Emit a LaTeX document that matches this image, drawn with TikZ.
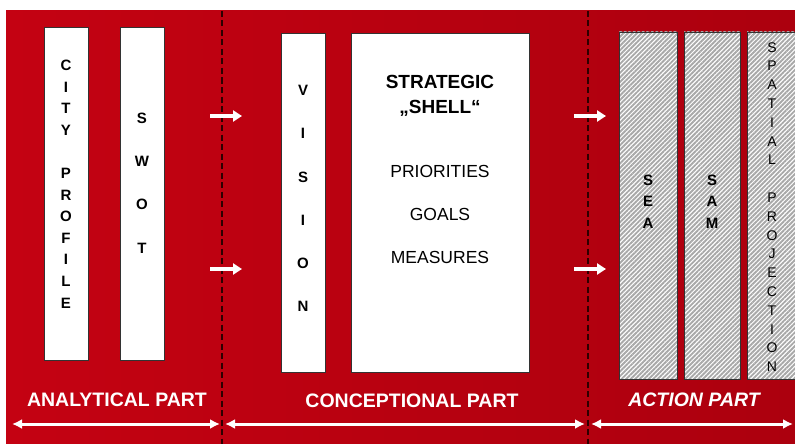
\documentclass[tikz,border=0pt]{standalone}
\usepackage{fontspec}
\setmainfont{Liberation Sans}
\usetikzlibrary{arrows.meta,patterns.meta}

\definecolor{bgred}{RGB}{196,2,18}
\definecolor{bgdark}{RGB}{172,0,14}
\definecolor{hatchgray}{RGB}{168,168,168}
\definecolor{divider}{RGB}{45,0,0}

\tikzset{
	whitebox/.style = {draw=black!80, fill=white, line width=0.8pt, inner sep=0pt, outer sep=0pt},
	hatchbox/.style = {draw=black!80, line width=0.8pt, inner sep=0pt, outer sep=0pt, preaction={fill=white}, pattern={Lines[angle=45,distance=3.2pt,line width=1.9pt]}, pattern color=hatchgray},
	letters/.style = {align=center, inner sep=0pt, font=\bfseries\fontsize{15}{21.6}\selectfont},
	wideletters/.style = {letters, font=\bfseries\fontsize{15}{43.3}\selectfont},
	partlabel/.style = {inner sep=0pt, text=white, font=\bfseries\fontsize{19.5}{22}\selectfont},
	divline/.style = {draw=divider, line width=1.2pt, dash pattern=on 6pt off 3.5pt},
	flow/.style = {draw=white, line width=3.2pt, -{Triangle[length=9pt,width=11pt]}},
	span/.style = {draw=white, line width=3pt, {Latex[length=10pt,width=10pt]}-{Latex[length=10pt,width=10pt]}}
}

\begin{document}
\begin{tikzpicture}[x=1pt, y=-1pt]
\useasboundingbox (0,0) rectangle (795,444);
\clip (0,0) rectangle (795,444);
\shade [left color=bgred, right color=bgdark] (6,11) rectangle (795,444);

% analytical part
\node (city) [whitebox, minimum width=44pt, minimum height=333pt] at (66,193.5) {};
\node (swot) [whitebox, minimum width=44pt, minimum height=333pt] at (142,193.5) {};
\node (citytxt) [letters] at (66,184) {C\\I\\T\\Y\\[21.6pt]P\\R\\O\\F\\I\\L\\E};
\node (swottxt) [wideletters] at (142,183) {S\\W\\O\\T};

% conceptional part
\node (vision) [whitebox, minimum width=44pt, minimum height=339pt] at (303,202.5) {};
\node (shell) [whitebox, minimum width=178pt, minimum height=339pt] at (440,202.5) {};
\node (visiontxt) [wideletters] at (303,198.5) {V\\I\\S\\I\\O\\N};
\node (shelltxt) [align=center, inner sep=0pt, font=\bfseries\fontsize{19}{25}\selectfont] at (440,96) {STRATEGIC\\„SHELL“};
\node (goals) [align=center, inner sep=0pt, font=\fontsize{17.5}{43}\selectfont] at (440,214) {PRIORITIES\\GOALS\\MEASURES};

% action part
\node (sea) [hatchbox, minimum width=58pt, minimum height=347pt] at (648,205.5) {};
\node (sam) [hatchbox, minimum width=56pt, minimum height=347pt] at (712,205.5) {};
\node (spatial) [hatchbox, minimum width=56pt, minimum height=347pt] at (775,205.5) {};
\node (seatxt) [letters] at (648,201.5) {S\\E\\A};
\node (samtxt) [letters] at (712,201.5) {S\\A\\M};
\node (spatialtxt) [align=center, inner sep=0pt, font=\fontsize{14}{18.8}\selectfont] at (772,207) {S\\P\\A\\T\\I\\A\\L\\[18.8pt]P\\R\\O\\J\\E\\C\\T\\I\\O\\N};

% dividers
\coordinate (d1top) at (222,11);
\coordinate (d1bot) at (222,444);
\coordinate (d2top) at (588,11);
\coordinate (d2bot) at (588,444);
\draw [divline] (d1top) -- (d1bot);
\draw [divline] (d2top) -- (d2bot);

% flow arrows
\coordinate (a1s) at (210,116);
\coordinate (a1e) at (242,116);
\coordinate (a2s) at (210,269);
\coordinate (a2e) at (242,269);
\coordinate (a3s) at (574,116);
\coordinate (a3e) at (606,116);
\coordinate (a4s) at (574,269);
\coordinate (a4e) at (606,269);
\draw [flow] (a1s) -- (a1e);
\draw [flow] (a2s) -- (a2e);
\draw [flow] (a3s) -- (a3e);
\draw [flow] (a4s) -- (a4e);

% part labels and spans
\node (analytical) [partlabel] at (117,400) {ANALYTICAL PART};
\node (conceptional) [partlabel] at (412,401) {CONCEPTIONAL PART};
\node (action) [partlabel, font=\bfseries\itshape\fontsize{19.5}{22}\selectfont] at (694,400) {ACTION PART};
\coordinate (s1l) at (12,424);
\coordinate (s1r) at (220,424);
\coordinate (s2l) at (225,424);
\coordinate (s2r) at (585,424);
\coordinate (s3l) at (591,424);
\coordinate (s3r) at (793,424);
\draw [span] (s1l) -- (s1r);
\draw [span] (s2l) -- (s2r);
\draw [span] (s3l) -- (s3r);
\end{tikzpicture}
\end{document}
